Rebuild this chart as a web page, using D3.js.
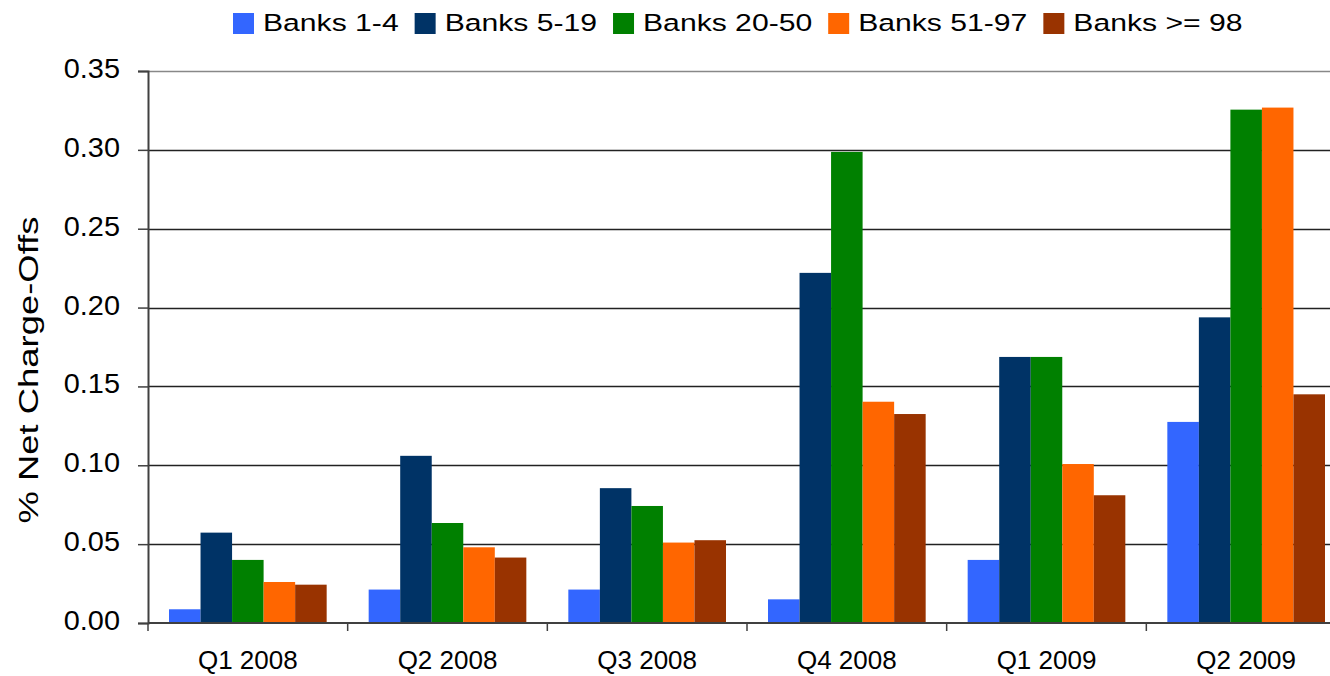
<!DOCTYPE html>
<html>
<head>
<meta charset="utf-8">
<script src="https://cdn.jsdelivr.net/npm/d3@7/dist/d3.min.js"></script>
<style>
  html, body { margin: 0; padding: 0; background: #fff; }
  svg { display: block; font-family: "Liberation Sans", Arial, sans-serif; }
</style>
</head>
<body>
<svg id="chart" width="1330" height="676"></svg>
<script>
// ---- data ----
const categories = ["Q1 2008", "Q2 2008", "Q3 2008", "Q4 2008", "Q1 2009", "Q2 2009"];
const seriesNames = ["Banks 1-4", "Banks 5-19", "Banks 20-50", "Banks 51-97", "Banks >= 98"];
const banks1to4   = [0.0087, 0.0212, 0.0212, 0.0150, 0.0400, 0.1275];
const banks5to19  = [0.0573, 0.1060, 0.0855, 0.2220, 0.1687, 0.1938];
const banks20to50 = [0.0400, 0.0634, 0.0742, 0.2987, 0.1687, 0.3255];
const banks51to97 = [0.0260, 0.0480, 0.0510, 0.1403, 0.1008, 0.3268];
const banks98plus = [0.0243, 0.0415, 0.0525, 0.1325, 0.0810, 0.1450];
const yTicks = [0, 0.05, 0.10, 0.15, 0.20, 0.25, 0.30, 0.35];
const colors = ["#3366FF", "#003366", "#008000", "#FF6600", "#993300"];
const yTitle = "% Net Charge-Offs";

const seriesValues = [banks1to4, banks5to19, banks20to50, banks51to97, banks98plus];

// ---- layout ----
const svg = d3.select("#chart");
const plot = { left: 148, right: 1346, top: 71, bottom: 623 };

const x0 = d3.scaleBand().domain(categories).range([plot.left, plot.right]).padding(0);
const barPad = 21;
const x1 = d3.scaleBand().domain(seriesNames).range([barPad, x0.bandwidth() - barPad]).padding(0);
const y = d3.scaleLinear().domain([0, 0.35]).range([plot.bottom, plot.top]);

// gridlines
svg.append("g").selectAll("line").data(yTicks.filter(t => t > 0)).join("line")
  .attr("x1", plot.left).attr("x2", plot.right)
  .attr("y1", d => Math.round(y(d)) + 0.5).attr("y2", d => Math.round(y(d)) + 0.5)
  .attr("stroke", d => d === 0.35 ? "#888" : "#222").attr("stroke-width", 1.3);

// bars
const gBars = svg.append("g");
categories.forEach((cat, ci) => {
  seriesNames.forEach((s, si) => {
    const v = seriesValues[si][ci];
    gBars.append("rect")
      .attr("x", x0(cat) + x1(s))
      .attr("y", y(v))
      .attr("width", x1.bandwidth())
      .attr("height", y(0) - y(v))
      .attr("fill", colors[si]);
  });
});

// y axis
const yAxis = d3.axisLeft(y).tickValues(yTicks).tickFormat(d3.format(".2f")).tickSize(10).tickPadding(0);
const gy = svg.append("g").attr("transform", `translate(${plot.left},0)`).call(yAxis);
gy.select(".domain").attr("stroke", "#404040").attr("stroke-width", 2);
gy.selectAll(".tick line").attr("stroke", "#404040").attr("stroke-width", 1.5);
gy.selectAll(".tick text").remove();
gy.selectAll(".tick").append("text")
  .attr("x", 0).attr("y", 0)
  .attr("transform", "translate(-28,6.5) scale(1.07,1)")
  .attr("text-anchor", "end")
  .attr("fill", "#000")
  .style("font-size", "27px")
  .text(d => d3.format(".2f")(d));

// x axis
const gx = svg.append("g").attr("transform", `translate(0,${plot.bottom})`);
gx.append("line").attr("x1", plot.left).attr("x2", plot.right)
  .attr("y1", 0).attr("y2", 0).attr("stroke", "#404040").attr("stroke-width", 2);
const boundaries = categories.map(c => x0(c)).concat([x0(categories[categories.length - 1]) + x0.bandwidth()]);
gx.selectAll("line.tk").data(boundaries).join("line").attr("class", "tk")
  .attr("x1", d => d).attr("x2", d => d).attr("y1", 0).attr("y2", 8)
  .attr("stroke", "#404040").attr("stroke-width", 1.5);
gx.selectAll("text").data(categories).join("text")
  .attr("x", d => x0(d) + x0.bandwidth() / 2)
  .attr("y", 46)
  .attr("text-anchor", "middle")
  .style("font-size", "26px")
  .attr("fill", "#000")
  .text(d => d);

// y title
svg.append("text")
  .attr("transform", "translate(37.5,370) rotate(-90) scale(1.3,1)")
  .attr("text-anchor", "middle")
  .style("font-size", "28px")
  .attr("fill", "#000")
  .text(yTitle);

// legend
const legend = svg.append("g");
let lx = 233;
const sx = 1.23;
seriesNames.forEach((s, i) => {
  legend.append("rect").attr("x", lx).attr("y", 13).attr("width", 21).attr("height", 21)
    .attr("fill", colors[i]);
  const t = legend.append("text")
    .attr("transform", `translate(${lx + 30},31) scale(${sx},1)`)
    .style("font-size", "24.5px")
    .attr("fill", "#000")
    .text(s);
  const w = t.node().getComputedTextLength() * sx;
  lx = lx + 30 + w + 16;
});
</script>
</body>
</html>
